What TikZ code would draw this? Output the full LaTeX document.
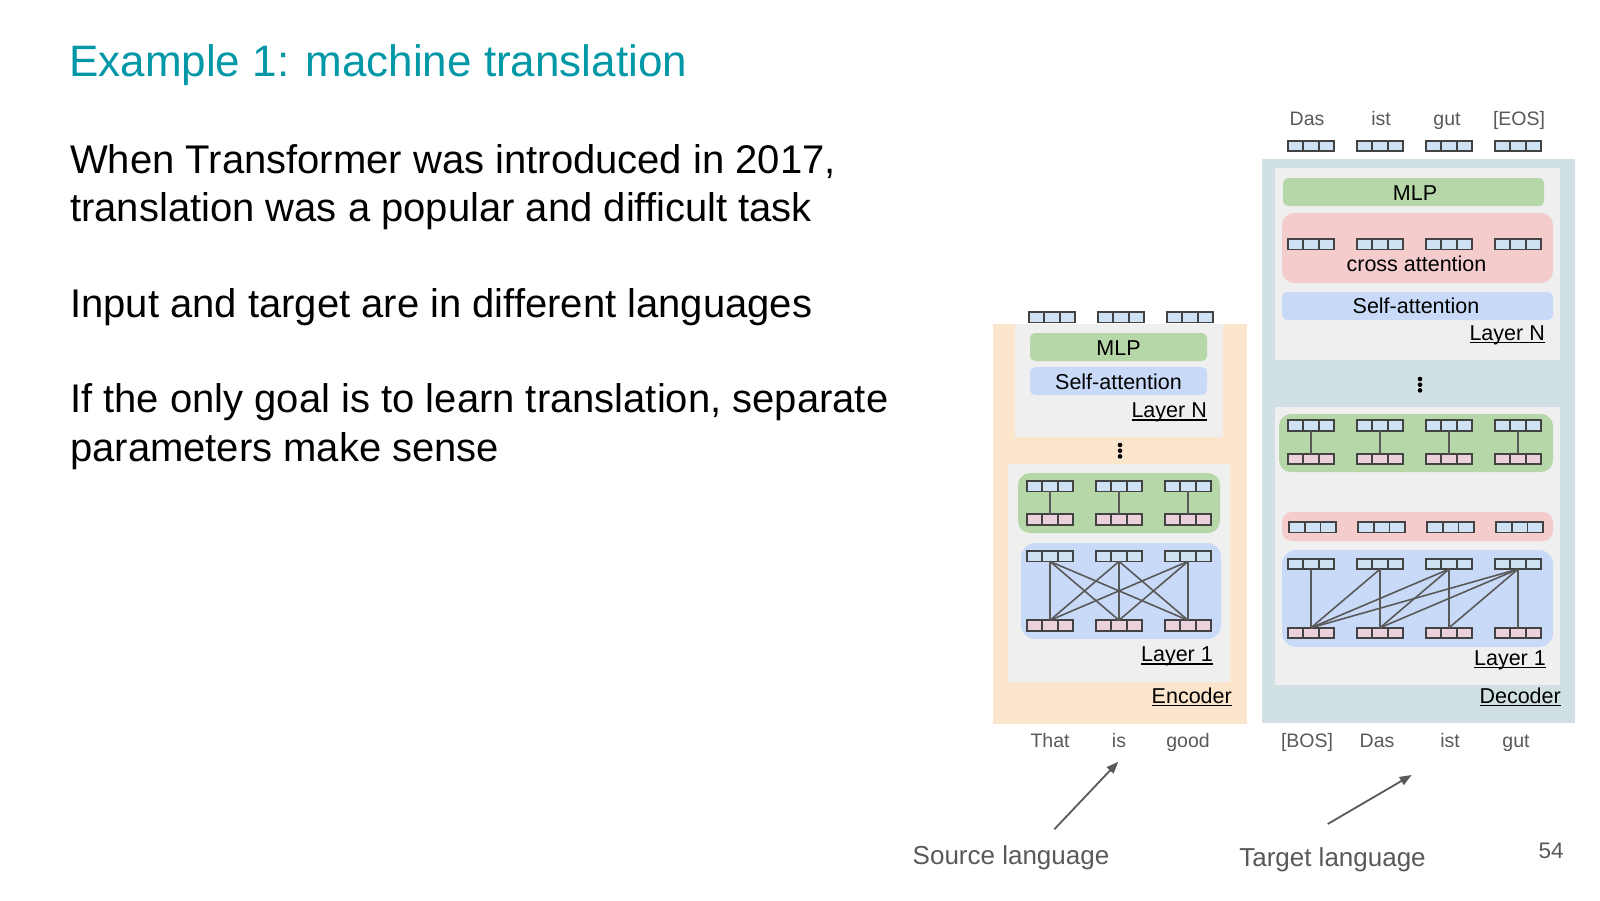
\documentclass[tikz,border=0pt]{standalone}
\usepackage{fontspec}
\setmainfont{Liberation Sans}
\usetikzlibrary{arrows.meta}
\definecolor{titlecol}{RGB}{0,151,167}
\definecolor{peach}{HTML}{FCE5CD}
\definecolor{decbg}{HTML}{D0E0E3}
\definecolor{laygray}{HTML}{EFEFEF}
\definecolor{mlpgreen}{HTML}{B6D7A8}
\definecolor{attblue}{HTML}{C9DAF8}
\definecolor{crosspink}{HTML}{F4CCCC}
\definecolor{tokblue}{HTML}{CFE2F3}
\definecolor{tokpink}{HTML}{EAD1DC}
\definecolor{tokline}{HTML}{434343}
\definecolor{txtgray}{HTML}{595959}
\newcommand\myul[1]{\setbox0=\hbox{#1}\rlap{\rule[-3pt]{\wd0}{1.5pt}}\box0}
\tikzset{
  tok/.style={draw=tokline, line width=1.9pt, minimum width=46.5pt, minimum height=10.5pt,
    inner sep=0pt, outer sep=0pt,
    path picture={\draw[tokline, line width=1.6pt]
      ([xshift=-7.8pt]path picture bounding box.north) -- ([xshift=-7.8pt]path picture bounding box.south)
      ([xshift=7.8pt]path picture bounding box.north) -- ([xshift=7.8pt]path picture bounding box.south);}},
  tb/.style={tok, fill=tokblue},
  tp/.style={tok, fill=tokpink},
  conn/.style={draw=txtgray, line width=1.6pt},
  lab/.style={inner sep=0pt, font=\fontsize{21.5}{25}\selectfont, text=black},
  word/.style={inner sep=0pt, font=\fontsize{19.5}{23}\selectfont, text=txtgray, anchor=base},
  body/.style={inner sep=0pt, font=\fontsize{40}{47}\selectfont, text=black, anchor=base west},
  big/.style={inner sep=0pt, font=\fontsize{26}{30}\selectfont, text=txtgray, anchor=base},
  pointer/.style={draw=txtgray, line width=1.8pt, -{Triangle[length=12pt,width=9pt]}},
  dotc/.style={fill=black},
}
\begin{document}
\begin{tikzpicture}[x=1pt,y=-1pt]
\useasboundingbox (0,0) rectangle (1600,900);
\fill[white] (0,0) rectangle (1600,900);

% ---------- text ----------
\node[inner sep=0pt, anchor=base west, text=titlecol, font=\fontsize{44}{52}\selectfont] (title) at (69,76.7) {Example 1: machine translation};
\node[body] (l1) at (70,173.7) {When Transformer was introduced in 2017,};
\node[body] (l2) at (70,221.9) {translation was a popular and difficult task};
\node[body] (l3) at (70,317.4) {Input and target are in different languages};
\node[body] (l4) at (70,412.8) {If the only goal is to learn translation, separate};
\node[body] (l5) at (70,461) {parameters make sense};

% ---------- encoder ----------
\fill[peach] (993,324) rectangle (1247,724);
\fill[laygray] (1015,324) rectangle (1223,437);
\fill[mlpgreen, rounded corners=5pt] (1030,333) rectangle (1207,361);
\fill[attblue, rounded corners=5pt] (1030,367) rectangle (1207,395);
\node[lab, anchor=base] (emlpN) at (1118.5,355) {MLP};
\node[lab, anchor=base] (eattN) at (1118.5,389) {Self-attention};
\node[lab, anchor=base east] (elayN) at (1207,417.5) {\myul{Layer N}};
\foreach \yy in {445,450.7,456.4} \fill[dotc] (1120,\yy) circle (2.3);

\fill[laygray] (1008,464) rectangle (1230,682);
\fill[mlpgreen, rounded corners=12pt] (1018,473) rectangle (1220,533);
\fill[attblue, rounded corners=14pt] (1021,543) rectangle (1221,639);
\node[lab, anchor=base east] (elay1) at (1213,661.5) {\myul{Layer 1}};
\node[lab, anchor=base east] (encl) at (1232,703.3) {\myul{Encoder}};

\foreach \i in {1,2,3} {
  \pgfmathsetmacro\cx{1050+69*(\i-1)}
  \pgfmathsetmacro\ox{1052+69*(\i-1)}
  \node[tb] (eo\i) at (\ox,317.2) {};
  \node[tb] (emt\i) at (\cx,486.2) {};
  \node[tp] (emb\i) at (\cx,519.5) {};
  \node[tb] (eat\i) at (\cx,556.2) {};
  \node[tp] (eab\i) at (\cx,625.5) {};
}
\foreach \i in {1,2,3} {
  \draw[conn] (emt\i.south) -- (emb\i.north);
  \foreach \j in {1,2,3} { \draw[conn] (eat\i.south) -- (eab\j.north); }
}
\node[word] (wthat) at (1050,747) {That};
\node[word] (wis) at (1119,747) {is};
\node[word] (wgood) at (1188,747) {good};

% ---------- decoder ----------
\fill[decbg] (1262,159) rectangle (1575,723);
\fill[laygray] (1275,168) rectangle (1560,360);
\fill[mlpgreen, rounded corners=5pt] (1283,178) rectangle (1544,206);
\fill[crosspink, rounded corners=12pt] (1282,213) rectangle (1553,283);
\fill[attblue, rounded corners=5pt] (1282,292) rectangle (1553,320);
\node[lab, anchor=base] (dmlpN) at (1415,200) {MLP};
\node[lab, anchor=base] (dcrossN) at (1416.5,271.5) {cross attention};
\node[lab, anchor=base] (dattN) at (1416,313.3) {Self-attention};
\node[lab, anchor=base east] (dlayN) at (1545,340) {\myul{Layer N}};
\foreach \yy in {379,384.7,390.4} \fill[dotc] (1420,\yy) circle (2.3);

\fill[laygray] (1275,407) rectangle (1560,685);
\fill[mlpgreen, rounded corners=12pt] (1279,414) rectangle (1553,472);
\fill[crosspink, rounded corners=10pt] (1282,512) rectangle (1553,541);
\fill[attblue, rounded corners=14pt] (1282,550) rectangle (1553,647);
\node[lab, anchor=base east] (dlay1) at (1546,665) {\myul{Layer 1}};
\node[lab, anchor=base east] (decl) at (1561,703.3) {\myul{Decoder}};

\foreach \i in {1,2,3,4} {
  \pgfmathsetmacro\cx{1311+69*(\i-1)}
  \pgfmathsetmacro\px{1312.5+69*(\i-1)}
  \node[tb] (do\i) at (\cx,145.9) {};
  \node[tb] (dc\i) at (\cx,244.2) {};
  \node[tb] (dmt\i) at (\cx,425.5) {};
  \node[tp] (dmb\i) at (\cx,458.8) {};
  \node[tb] (dx\i) at (\px,527.2) {};
  \node[tb] (dat\i) at (\cx,563.9) {};
  \node[tp] (dab\i) at (\cx,633) {};
}
\foreach \i in {1,2,3,4} {
  \draw[conn] (dmt\i.south) -- (dmb\i.north);
  \foreach \j in {1,...,\i} { \draw[conn] (dat\i.south) -- (dab\j.north); }
}
\node[word] (tdas) at (1307,125.7) {Das};
\node[word] (tist) at (1381,125.7) {ist};
\node[word] (tgut) at (1447,125.7) {gut};
\node[word] (teos) at (1519,125.7) {[EOS]};
\node[word] (bbos) at (1307,747) {[BOS]};
\node[word] (bdas) at (1377,747) {Das};
\node[word] (bist) at (1450,747) {ist};
\node[word] (bgut) at (1516,747) {gut};

% ---------- bottom labels ----------
\node[big] (src) at (1011,864.3) {Source language};
\node[big] (tgt) at (1332.5,866.7) {Target language};
\node[inner sep=0pt, anchor=base, font=\fontsize{22.5}{26}\selectfont, text=txtgray] (pg) at (1551,858.3) {54};
\coordinate (srctail) at (1054.3,829.3);
\coordinate (srctip) at (1118.3,761.7);
\coordinate (tgttail) at (1327.7,824);
\coordinate (tgttip) at (1411.7,775);
\draw[pointer] (srctail) -- (srctip);
\draw[pointer] (tgttail) -- (tgttip);
\end{tikzpicture}
\end{document}
